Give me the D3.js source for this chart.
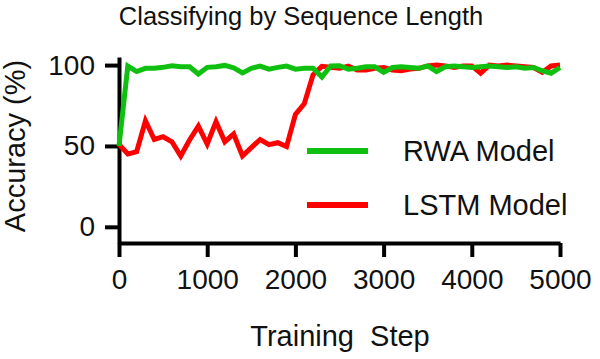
<!DOCTYPE html>
<html>

<head>
  <meta charset='utf-8'>
  <script type="text/javascript" src="https://cdn.jsdelivr.net/npm/d3@7/dist/d3.min.js"></script>
  <style>
    body { margin: 0; background: #fff; }
    text { font-family: "Liberation Sans", Arial, sans-serif; fill: #111; }
  </style>
</head>

<body>
</body>
<script>
  // training steps, every 100
  let steps = d3.range(0, 5001, 100)
  let rwa = [50, 99.4, 96, 98, 98, 98.6, 99.6, 99, 99, 94.5,
    98.6, 99, 99.8, 98.3, 95.2, 98, 99.4, 97.5, 98.6, 99.4,
    97.5, 98, 98, 92.6, 99.4, 99.6, 97.5, 98, 99, 99,
    95.5, 98.5, 99, 98.5, 98, 99.5, 96, 99, 99.5, 99,
    98.5, 99, 99.5, 99, 98.5, 99, 98, 98.5, 96.5, 95, 98.5]
  let lstm = [51, 45, 46.5, 65.6, 54, 55.7, 52.6, 43.8, 53.7, 62.3,
    51.2, 65, 52.6, 57.4, 43.8, 49, 54, 50.8, 52, 49.6,
    69.5, 76, 94, 99.2, 98.6, 98, 99.4, 97, 97, 98,
    98.5, 97, 96.5, 97.5, 98, 99.5, 100, 99.5, 98.5, 99.5,
    99.5, 95, 100, 99.5, 100, 99.5, 99, 98.5, 95.5, 99.5, 100]
  let xTicks = [0, 1000, 2000, 3000, 4000, 5000]
  let yTicks = [0, 50, 100]

  let w = 600
  let h = 359

  let xScale = d3.scaleLinear()
    .domain([0, 5000])
    .range([119, 560])
  let yScale = d3.scaleLinear()
    .domain([-10, 105])
    .range([243, 57])

  let svg = d3.select('body')
    .append('svg')
    .attr('width', w)
    .attr('height', h)

  //axis
  let xAxis = d3.axisBottom(xScale)
    .tickValues(xTicks)
    .tickSize(14)
    .tickSizeOuter(0)
    .tickPadding(12)
    .tickFormat(d3.format('d'))
  let yAxis = d3.axisLeft(yScale)
    .tickValues(yTicks)
    .tickSize(14)
    .tickSizeOuter(0)
    .tickPadding(10)

  svg.append('g')
    .attr('transform', 'translate(0,' + yScale(-10) + ')')
    .call(xAxis)
  svg.append('g')
    .attr('transform', 'translate(' + xScale(0) + ',0)')
    .call(yAxis)

  svg.selectAll('.domain, .tick line')
    .attr('stroke', '#000')
    .attr('stroke-width', 4)
  svg.selectAll('.tick text')
    .style('font-size', '28px')
    .attr('fill', '#111')

  // lines
  let line = d3.line()
    .x((d, i) => xScale(steps[i]))
    .y(d => yScale(d))

  svg.append('path')
    .datum(lstm)
    .attr('d', line)
    .attr('fill', 'none')
    .attr('stroke', '#ff0000')
    .attr('stroke-width', 5)
  svg.append('path')
    .datum(rwa)
    .attr('d', line)
    .attr('fill', 'none')
    .attr('stroke', '#10c010')
    .attr('stroke-width', 5)

  // legend
  let legend = [{ name: 'RWA Model', color: '#10c010', y: 151 },
  { name: 'LSTM Model', color: '#ff0000', y: 205 }]
  legend.forEach(function (d) {
    svg.append('line')
      .attr('x1', 307).attr('x2', 368)
      .attr('y1', d.y).attr('y2', d.y)
      .attr('stroke', d.color)
      .attr('stroke-width', 6)
    svg.append('text')
      .attr('x', 403)
      .attr('y', d.y + 10)
      .style('font-size', '29px')
      .text(d.name)
  })

  // titles
  svg.append('text')
    .attr('x', 301)
    .attr('y', 25)
    .attr('text-anchor', 'middle')
    .style('font-size', '25.5px')
    .text('Classifying by Sequence Length')
  svg.append('text')
    .attr('x', 340)
    .attr('y', 346)
    .attr('text-anchor', 'middle')
    .attr('xml:space', 'preserve')
    .style('white-space', 'pre')
    .style('font-size', '29px')
    .text('Training  Step')
  svg.append('text')
    .attr('transform', 'translate(25,146) rotate(-90)')
    .attr('text-anchor', 'middle')
    .style('font-size', '29px')
    .text('Accuracy (%)')
</script>

</html>
